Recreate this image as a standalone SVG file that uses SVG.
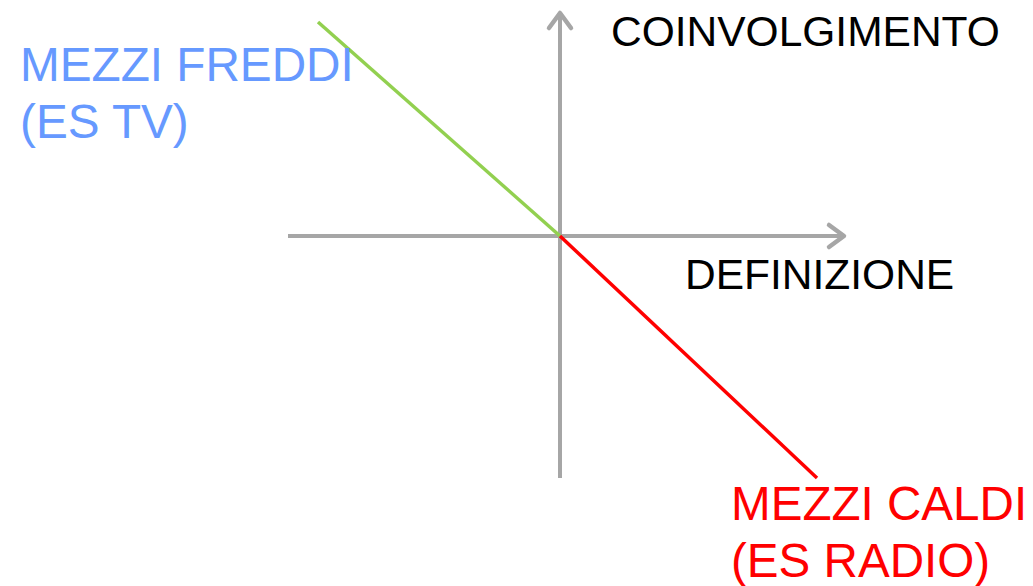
<svg xmlns="http://www.w3.org/2000/svg" width="1033" height="586" viewBox="0 0 1033 586">
<style>
.axis{stroke:#a6a6a6;stroke-width:4;fill:none;stroke-linecap:butt}
.head{stroke:#a6a6a6;stroke-width:4.5;fill:none;stroke-linecap:round;stroke-linejoin:round}
.t{font-family:"Liberation Sans",Arial,sans-serif}
</style>
<rect width="1033" height="586" fill="#ffffff"/>
<g id="connectors">
<line class="axis" x1="288" y1="236" x2="843" y2="236"/>
<polyline class="head" points="829,225 844,236 829,247"/>
<line class="axis" x1="560" y1="478" x2="560" y2="14"/>
<polyline class="head" points="549,28 560,13 571,28"/>
<line x1="318" y1="22" x2="560" y2="236" stroke="#92d050" stroke-width="3.5"/>
<line x1="560" y1="236" x2="817" y2="478" stroke="#ff0000" stroke-width="3.5"/>
</g>
<g id="label-coinvolgimento"><text class="t" x="611" y="46" font-size="42.5" fill="#000000">COINVOLGIMENTO</text></g>
<g id="label-definizione"><text class="t" x="685" y="289" font-size="42.5" fill="#000000">DEFINIZIONE</text></g>
<g id="label-freddi"><text class="t" x="20" y="81" font-size="47.7" fill="#6699ff">MEZZI FREDDI</text><text class="t" x="20" y="138" font-size="47.7" fill="#6699ff">(ES TV)</text></g>
<g id="label-caldi"><text class="t" x="731" y="520" font-size="47.6" fill="#ff0000">MEZZI CALDI</text><text class="t" x="731" y="577" font-size="47.6" fill="#ff0000">(ES RADIO)</text></g>
</svg>
